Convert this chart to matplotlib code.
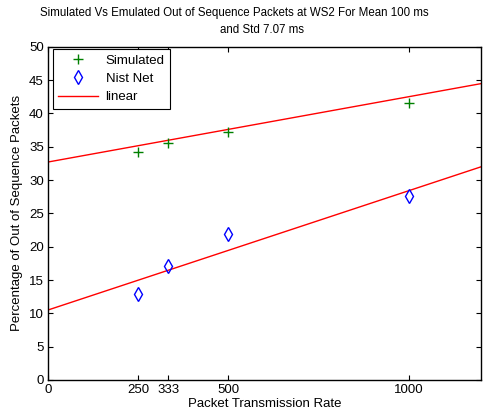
import matplotlib
matplotlib.use("Agg")
import numpy as np
import matplotlib.pyplot as plt
from matplotlib.lines import Line2D

# Packet rates and out-of-sequence percentages
rates = [250, 333, 500, 1000]
simulated = [34.2, 35.6, 37.2, 41.6]
nist_net = [12.9, 17.15, 21.85, 27.6]

# Linear fit coefficients (slope, intercept)
sim_fit = [0.0098, 32.7]
nist_fit = [0.0179, 10.5]

x_ticks = [0, 250, 333, 500, 1000]
y_ticks = list(range(0, 51, 5))

plt.rcParams["font.family"] = ["Liberation Sans", "DejaVu Sans"]
plt.rcParams["font.size"] = 9.5

W, H = 493, 417
fig = plt.figure(figsize=(W / 100, H / 100), dpi=100)
ax = fig.add_axes([48 / W, 1 - 380 / H, 433 / W, 333.3 / H])

xs = np.array([0, 1200])
ax.plot(xs, np.polyval(sim_fit, xs), color="red", lw=1)
ax.plot(xs, np.polyval(nist_fit, xs), color="red", lw=1)
ax.plot(rates, simulated, ls="none", marker="+", color="#008000", ms=6.5, mew=1)
ax.plot(rates, nist_net, ls="none", marker="d", mfc="none", mec="blue", ms=6.8, mew=1)

ax.set_xlim(0, 1200)
ax.set_ylim(0, 50)
ax.set_xticks(x_ticks)
ax.set_yticks(y_ticks)
ax.tick_params(direction="in", top=True, right=True, length=3.5, width=0.8, pad=3)
for s in ax.spines.values():
    s.set_linewidth(1)

ax.set_xlabel("Packet Transmission Rate", labelpad=1)
ax.set_ylabel("Percentage of Out of Sequence Packets", labelpad=4)

fig.text(234 / W, 1 - 13 / H, "Simulated Vs Emulated Out of Sequence Packets at WS2 For Mean 100 ms",
         ha="center", va="center", fontsize=8.3)
fig.text(262 / W, 1 - 30 / H, "and Std 7.07 ms", ha="center", va="center", fontsize=8.3)

handles = [
    Line2D([], [], ls="none", marker="+", color="#008000", ms=6.5, mew=1),
    Line2D([], [], ls="none", marker="d", mfc="none", mec="blue", ms=6.8, mew=1),
    Line2D([], [], color="red", lw=1),
]
leg = ax.legend(handles, ["Simulated", "Nist Net", "linear"], loc="upper left",
                bbox_to_anchor=(0.011, 0.992), borderaxespad=0, fancybox=False,
                edgecolor="black", framealpha=1, handlelength=3.0, handletextpad=0.6,
                borderpad=0.4, labelspacing=0.45, fontsize=9.5)
leg.get_frame().set_linewidth(0.8)

fig.savefig("out.png", dpi=100)
